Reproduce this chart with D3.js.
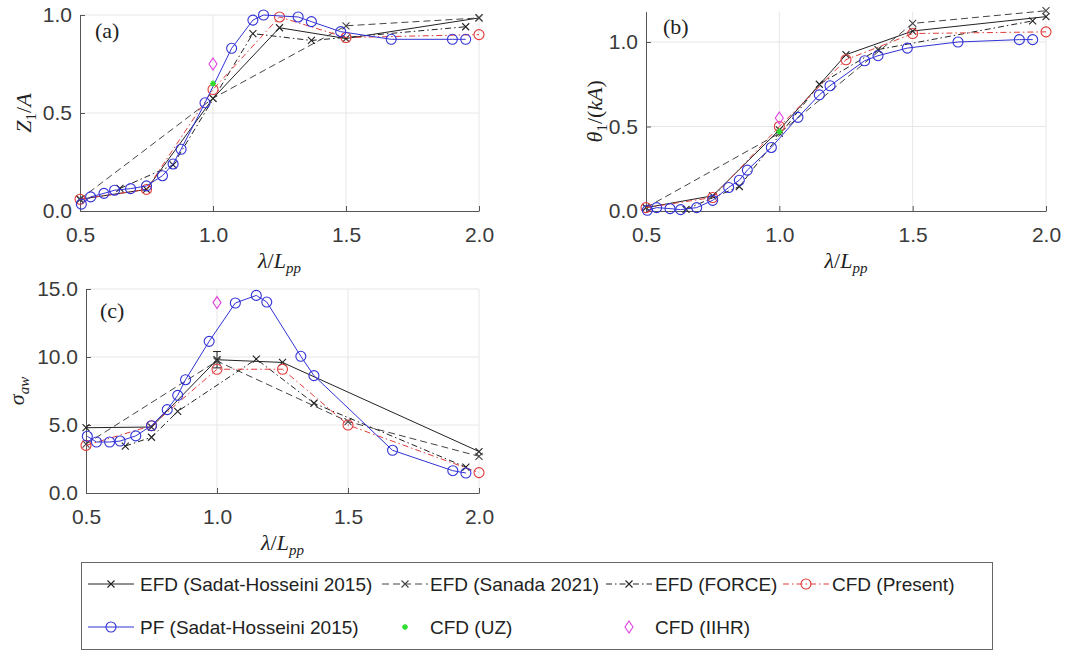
<!DOCTYPE html>
<html lang="en">
<head>
<meta charset="UTF-8">
<title>KCS heave, pitch and added resistance</title>
<style>
  body { margin: 0; background: #fff; }
  svg { display: block; background: #fff; }
  .tick text { font-family: "Liberation Sans", Arial, sans-serif; font-size: 21px; fill: #3a3a3a; }
  .tick line, .domain { stroke: #555; }
  .lab { font-family: "Liberation Serif", "Times New Roman", serif; font-size: 22px; fill: #222; }
  .leg { font-family: "Liberation Sans", Arial, sans-serif; font-size: 19px; fill: #222; }
</style>
</head>
<body>
<svg width="1065" height="652" id="svg"></svg>
<script src="https://d3js.org/d3.v7.min.js"></script>
<script>
// lambda / Lpp of each data set
var xSH = [0.5, 0.75, 1.0, 1.25, 1.5, 2.0];
var xSHc = [0.5, 0.75, 1.0, 1.25, 2.0];
var xSanada = [0.5, 1.0, 1.5, 2.0];
var xForce = [0.65, 0.85, 1.15, 1.37, 1.95];
var xForceC = [0.65, 0.75, 0.85, 1.15, 1.37, 1.95];
var xPresent = [0.5, 0.75, 1.0, 1.25, 1.5, 2.0];
var xPF = [0.505, 0.54, 0.59, 0.63, 0.69, 0.75, 0.81, 0.85, 0.88, 0.97, 1.07, 1.15, 1.19, 1.32, 1.37, 1.48, 1.67, 1.9, 1.95];
var xPFc = [0.505, 0.54, 0.59, 0.63, 0.69, 0.75, 0.81, 0.85, 0.88, 0.97, 1.07, 1.15, 1.19, 1.32, 1.37, 1.67, 1.9, 1.95];
var xOne = [1.0];
var xTicks = [0.5, 1.0, 1.5, 2.0];

// (a) heave Z1/A
var zSH = [0.06, 0.11, 0.575, 0.935, 0.88, 0.985];
var zSanada = [0.06, 0.575, 0.945, 0.985];
var zForce = [0.115, 0.235, 0.905, 0.87, 0.94];
var zPresent = [0.06, 0.11, 0.62, 0.99, 0.885, 0.9];
var zPF = [0.035, 0.072, 0.09, 0.106, 0.114, 0.128, 0.18, 0.24, 0.315, 0.552, 0.83, 0.974, 1.0, 0.99, 0.966, 0.915, 0.876, 0.876, 0.876];
var zUZ = [0.65];
var zIIHR = [0.75];
var zTicks = [0, 0.5, 1.0];

// (b) pitch theta1/(kA)
var tSH = [0.02, 0.09, 0.48, 0.925, 1.065, 1.15];
var tSanada = [0.02, 0.46, 1.11, 1.185];
var tForce = [0.01, 0.145, 0.75, 0.955, 1.125];
var tPresent = [0.02, 0.08, 0.5, 0.895, 1.05, 1.06];
var tPF = [0.004, 0.02, 0.014, 0.008, 0.02, 0.063, 0.139, 0.182, 0.242, 0.376, 0.554, 0.687, 0.741, 0.889, 0.919, 0.964, 1.0, 1.014, 1.014];
var tUZ = [0.47];
var tIIHR = [0.55];
var tTicks = [0, 0.5, 1.0];

// (c) added resistance sigma_aw
var sSH = [4.8, 4.85, 9.8, 9.6, 3.05];
var sSHerr = [0, 0, 0.6, 0, 0];
var sSanada = [3.6, 9.7, 5.25, 2.7];
var sForce = [3.45, 4.1, 6.0, 9.85, 6.6, 1.9];
var sPresent = [3.5, 4.95, 9.1, 9.1, 5.0, 1.5];
var sPF = [4.17, 3.75, 3.75, 3.82, 4.2, 4.95, 6.13, 7.18, 8.33, 11.15, 13.97, 14.53, 14.04, 10.05, 8.63, 3.14, 1.64, 1.47];
var sIIHR = [14.0];
var sTicks = [0, 5, 10, 15];

var styles = {
  sh:      { name: "EFD (Sadat-Hosseini 2015)", color: "#222", dash: null, marker: "x", line: true },
  sanada:  { name: "EFD (Sanada 2021)", color: "#444", dash: "7,4", marker: "x", line: true },
  force:   { name: "EFD (FORCE)", color: "#222", dash: "6,3,1.5,3", marker: "x", line: true },
  present: { name: "CFD (Present)", color: "#e23a3a", dash: "6,3,1.5,3", marker: "o", line: true },
  pf:      { name: "PF (Sadat-Hosseini 2015)", color: "#3232d6", dash: null, marker: "o", line: true },
  uz:      { name: "CFD (UZ)", color: "#2ede2e", dash: null, marker: "*", line: false },
  iihr:    { name: "CFD (IIHR)", color: "#e040e0", dash: null, marker: "d", line: false }
};

var panels = [
  { tag: "(a)", tagX: 95, tagY: 38, x0: 80, x1: 479, yb: 211, yt: 15, ymax: 1.0, yTicks: zTicks,
    ylab: "a", ylabX: 31,
    series: [["sh", xSH, zSH], ["sanada", xSanada, zSanada], ["force", xForce, zForce],
             ["present", xPresent, zPresent], ["pf", xPF, zPF], ["uz", xOne, zUZ], ["iihr", xOne, zIIHR]] },
  { tag: "(b)", tagX: 663, tagY: 34, x0: 646, x1: 1046, yb: 211, yt: 211 - 1.18 * 169, ymax: 1.18, yTicks: tTicks,
    ylab: "b", ylabX: 602,
    series: [["sh", xSH, tSH], ["sanada", xSanada, tSanada], ["force", xForce, tForce],
             ["present", xPresent, tPresent], ["pf", xPF, tPF], ["uz", xOne, tUZ], ["iihr", xOne, tIIHR]] },
  { tag: "(c)", tagX: 100, tagY: 318, x0: 86, x1: 479, yb: 493, yt: 289, ymax: 15, yTicks: sTicks,
    ylab: "c", ylabX: 24,
    series: [["sh", xSHc, sSH, sSHerr], ["sanada", xSanada, sSanada], ["force", xForceC, sForce],
             ["present", xPresent, sPresent], ["pf", xPFc, sPF], ["iihr", xOne, sIIHR]] }
];

var svg = d3.select("svg");

function drawMarker(g, m, color) {
  if (m === "x") {
    var s = 3.5;
    g.append("path").attr("d", "M" + -s + "," + -s + "L" + s + "," + s + "M" + -s + "," + s + "L" + s + "," + -s)
      .attr("stroke", color).attr("stroke-width", 1.1).attr("fill", "none");
  } else if (m === "o") {
    g.append("circle").attr("r", 5).attr("fill", "none").attr("stroke", color).attr("stroke-width", 1.1);
  } else if (m === "*") {
    var a = 3;
    g.append("path").attr("d", "M0," + -a + "V" + a + "M" + -a + ",0H" + a + "M-2,-2L2,2M-2,2L2,-2")
      .attr("stroke", color).attr("stroke-width", 1.4).attr("fill", "none");
  } else if (m === "d") {
    g.append("path").attr("d", "M0,-6L4,0L0,6L-4,0Z").attr("fill", "none").attr("stroke", color).attr("stroke-width", 1.1);
  }
}

panels.forEach(function (p) {
  var x = d3.scaleLinear().domain([0.5, 2.0]).range([p.x0, p.x1]);
  var y = d3.scaleLinear().domain([0, p.ymax]).range([p.yb, p.yt]);
  var g = svg.append("g");

  // grid
  g.selectAll(".gx").data(xTicks.slice(1)).enter().append("line")
    .attr("x1", function (d) { return x(d); }).attr("x2", function (d) { return x(d); })
    .attr("y1", p.yb).attr("y2", p.yt).attr("stroke", "#e6e6e6");
  g.selectAll(".gy").data(p.yTicks.slice(1)).enter().append("line")
    .attr("x1", p.x0).attr("x2", p.x1)
    .attr("y1", function (d) { return y(d); }).attr("y2", function (d) { return y(d); })
    .attr("stroke", "#e6e6e6");

  g.append("g").attr("transform", "translate(0," + p.yb + ")")
    .call(d3.axisBottom(x).tickValues(xTicks).tickFormat(d3.format(".1f"))
      .tickSizeInner(-5).tickSizeOuter(0).tickPadding(16));
  g.append("g").attr("transform", "translate(" + p.x0 + ",0)")
    .call(d3.axisLeft(y).tickValues(p.yTicks).tickFormat(d3.format(".1f"))
      .tickSizeInner(-5).tickSizeOuter(0).tickPadding(8));

  // data
  p.series.forEach(function (s) {
    var st = styles[s[0]];
    var pts = d3.zip(s[1], s[2]);
    if (st.line) {
      g.append("path").datum(pts)
        .attr("d", d3.line().x(function (d) { return x(d[0]); }).y(function (d) { return y(d[1]); }))
        .attr("fill", "none").attr("stroke", st.color).attr("stroke-width", 1)
        .attr("stroke-dasharray", st.dash);
    }
    if (s[3]) {
      pts.forEach(function (d, i) {
        var e = s[3][i];
        if (!e) return;
        var cx = x(d[0]);
        g.append("path")
          .attr("d", "M" + cx + "," + y(d[1] - e) + "V" + y(d[1] + e) +
            "M" + (cx - 4) + "," + y(d[1] + e) + "H" + (cx + 4) +
            "M" + (cx - 4) + "," + y(d[1] - e) + "H" + (cx + 4))
          .attr("stroke", st.color).attr("fill", "none");
      });
    }
    pts.forEach(function (d) {
      drawMarker(g.append("g").attr("transform", "translate(" + x(d[0]) + "," + y(d[1]) + ")"), st.marker, st.color);
    });
  });

  // panel tag
  g.append("text").attr("class", "lab").attr("x", p.tagX).attr("y", p.tagY).text(p.tag);

  // x label
  var xl = g.append("text").attr("class", "lab").attr("text-anchor", "middle")
    .attr("x", (p.x0 + p.x1) / 2).attr("y", p.yb + 57);
  xl.append("tspan").attr("font-style", "italic").text("λ");
  xl.append("tspan").text("/");
  xl.append("tspan").attr("font-style", "italic").text("L");
  xl.append("tspan").attr("font-style", "italic").attr("font-size", "15px").attr("dy", 5).text("pp");

  // y label
  var yl = g.append("text").attr("class", "lab").attr("text-anchor", "middle")
    .attr("transform", "translate(" + p.ylabX + "," + (p.yb + p.yt) / 2 + ") rotate(-90)");
  if (p.ylab === "a") {
    yl.append("tspan").attr("font-style", "italic").text("Z");
    yl.append("tspan").attr("font-size", "15px").attr("dy", 5).text("1");
    yl.append("tspan").attr("dy", -5).text("/");
    yl.append("tspan").attr("font-style", "italic").text("A");
  } else if (p.ylab === "b") {
    yl.append("tspan").attr("font-style", "italic").text("θ");
    yl.append("tspan").attr("font-size", "15px").attr("dy", 5).text("1");
    yl.append("tspan").attr("dy", -5).text("/(");
    yl.append("tspan").attr("font-style", "italic").text("kA");
    yl.append("tspan").text(")");
  } else {
    yl.append("tspan").attr("font-style", "italic").text("σ");
    yl.append("tspan").attr("font-style", "italic").attr("font-size", "15px").attr("dy", 5).text("aw");
  }
});

// legend
var legRows = [
  [["sh", 88, 140], ["sanada", 382, 430], ["force", 606, 655], ["present", 783, 832]],
  [["pf", 88, 140], ["uz", 382, 430], ["iihr", 606, 655]]
];
var legY = [584, 627];
var leg = svg.append("g");
leg.append("rect").attr("x", 81.5).attr("y", 562.5).attr("width", 911).attr("height", 87)
  .attr("fill", "#fff").attr("stroke", "#666");
legRows.forEach(function (row, r) {
  row.forEach(function (e) {
    var st = styles[e[0]];
    var cy = legY[r];
    if (st.line) {
      leg.append("line").attr("x1", e[1]).attr("x2", e[1] + 46).attr("y1", cy).attr("y2", cy)
        .attr("stroke", st.color).attr("stroke-dasharray", st.dash);
    }
    drawMarker(leg.append("g").attr("transform", "translate(" + (e[1] + 23) + "," + cy + ")"), st.marker, st.color);
    leg.append("text").attr("class", "leg").attr("x", e[2]).attr("y", cy).attr("dy", "0.35em").text(st.name);
  });
});
</script>
</body>
</html>
